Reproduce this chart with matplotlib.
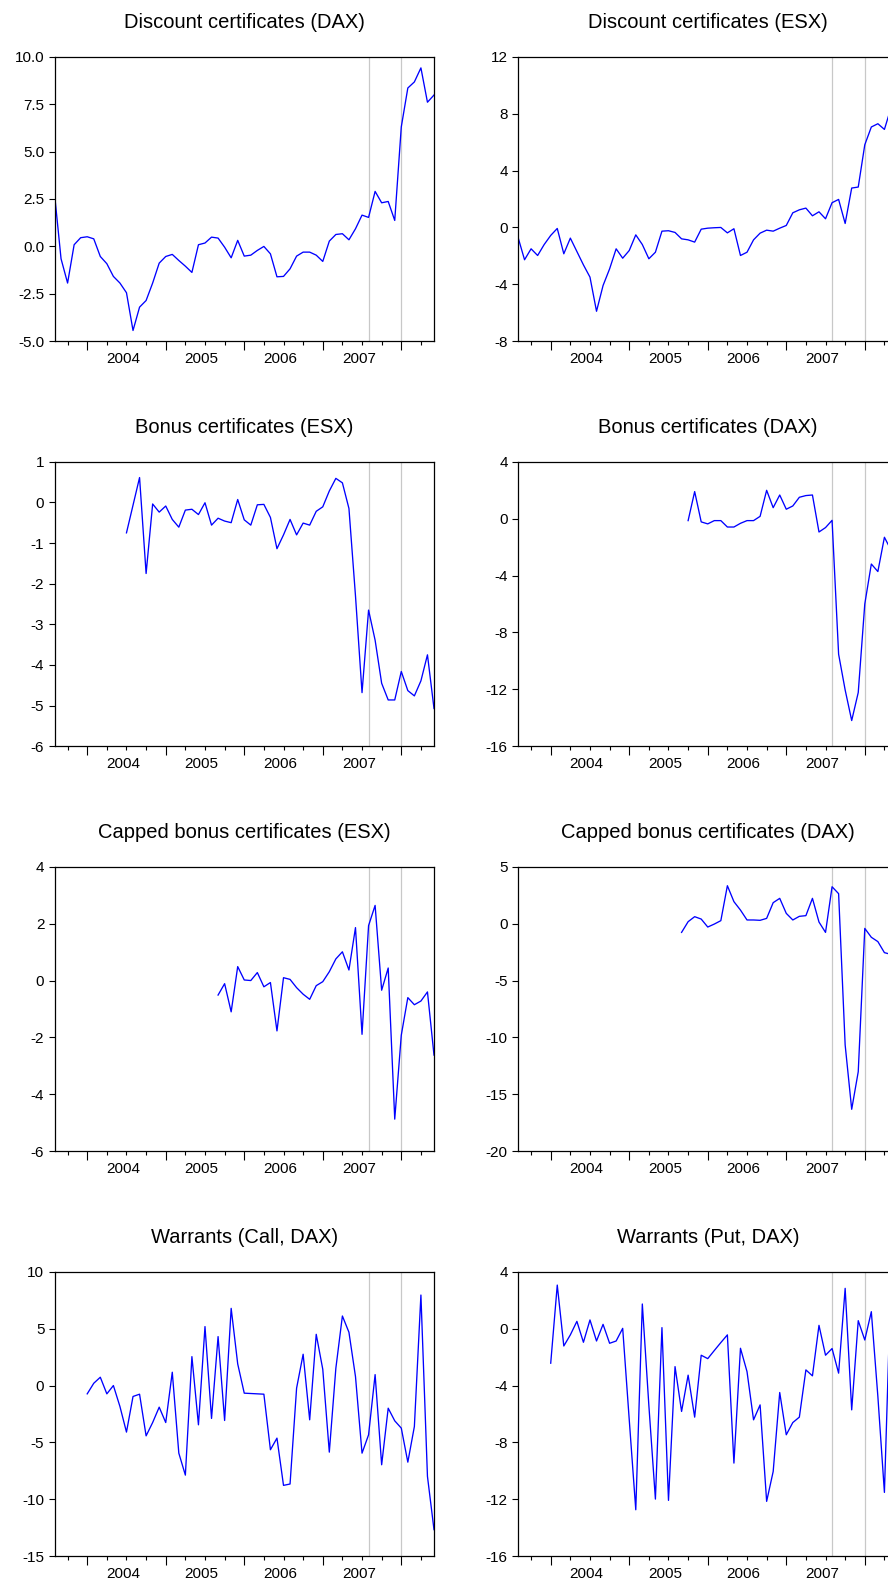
import matplotlib
matplotlib.use("Agg")
import matplotlib.pyplot as plt
import numpy as np
import pandas as pd

plt.rcParams['font.family'] = ['Liberation Sans', 'DejaVu Sans']

# monthly sample 2003M08 - 2008M06
months = pd.period_range('2003-08', '2008-06', freq='M')
years = [2004, 2005, 2006, 2007]
crisis_marks = ['2007-08', '2008-01']

disc_dax = [2.78, -0.65, -1.93, 0.09, 0.46, 0.51, 0.40, -0.53, -0.91, -1.58,
            -1.93, -2.44, -4.43, -3.20, -2.85, -1.93, -0.88, -0.53, -0.42, -0.74,
            -1.04, -1.37, 0.09, 0.18, 0.49, 0.44, -0.04, -0.60, 0.32, -0.51,
            -0.46, -0.21, 0.00, -0.39, -1.60, -1.58, -1.18, -0.51, -0.30, -0.30,
            -0.46, -0.79, 0.28, 0.63, 0.67, 0.35, 0.93, 1.65, 1.53, 2.90,
            2.30, 2.37, 1.37, 6.30, 8.35, 8.67, 9.41, 7.60, 7.98]
disc_esx = [-0.68, -2.27, -1.50, -1.97, -1.20, -0.56, -0.07, -1.85, -0.75, -1.69,
            -2.63, -3.49, -5.89, -4.08, -2.91, -1.50, -2.16, -1.62, -0.52, -1.20,
            -2.20, -1.74, -0.26, -0.23, -0.35, -0.80, -0.87, -1.03, -0.12, -0.05,
            -0.02, 0.00, -0.38, -0.09, -1.97, -1.74, -0.87, -0.40, -0.19, -0.26,
            -0.05, 0.14, 1.03, 1.24, 1.36, 0.82, 1.10, 0.61, 1.74, 1.97,
            0.28, 2.77, 2.84, 5.81, 7.06, 7.29, 6.89, 8.40, 8.00]
bonus_esx_start = '2004-07'
bonus_esx = [-0.75, -0.07, 0.61, -1.75, -0.04, -0.24, -0.09, -0.42, -0.61, -0.19,
             -0.17, -0.30, -0.01, -0.56, -0.39, -0.46, -0.50, 0.07, -0.43, -0.56,
             -0.06, -0.05, -0.37, -1.14, -0.80, -0.42, -0.80, -0.51, -0.56, -0.22,
             -0.11, 0.28, 0.59, 0.48, -0.15, -2.30, -4.68, -2.65, -3.39, -4.45,
             -4.86, -4.86, -4.16, -4.63, -4.76, -4.39, -3.75, -5.07]
bonus_dax_start = '2005-10'
bonus_dax = [-0.14, 1.90, -0.23, -0.37, -0.14, -0.14, -0.59, -0.59, -0.33, -0.14,
             -0.14, 0.16, 1.99, 0.77, 1.66, 0.66, 0.89, 1.50, 1.62, 1.66,
             -0.94, -0.63, -0.12, -9.53, -12.04, -14.19, -12.22, -6.00, -3.19, -3.72,
             -1.31, -2.20, -2.50]
capped_esx_start = '2005-09'
capped_esx = [-0.51, -0.11, -1.10, 0.49, 0.02, 0.00, 0.28, -0.22, -0.07, -1.77,
              0.10, 0.04, -0.25, -0.48, -0.66, -0.18, -0.04, 0.31, 0.76, 1.01,
              0.37, 1.86, -1.89, 1.93, 2.64, -0.34, 0.44, -4.87, -1.92, -0.60,
              -0.85, -0.72, -0.40, -2.62]
capped_dax_start = '2005-09'
capped_dax = [-0.77, 0.17, 0.61, 0.40, -0.30, -0.04, 0.26, 3.33, 1.93, 1.19,
              0.32, 0.32, 0.29, 0.46, 1.84, 2.22, 0.90, 0.32, 0.64, 0.70,
              2.22, 0.14, -0.77, 3.24, 2.63, -10.66, -16.31, -13.01, -0.42, -1.20,
              -1.58, -2.55, -2.70, -3.00]
call_dax_start = '2004-01'
call_dax = [-0.73, 0.20, 0.73, -0.73, 0.00, -1.84, -4.09, -0.96, -0.76, -4.42,
            -3.25, -1.90, -3.25, 1.17, -5.94, -7.87, 2.54, -3.45, 5.18, -2.89,
            4.30, -3.07, 6.78, 1.90, -0.67, -0.70, -0.73, -0.76, -5.64, -4.62,
            -8.77, -8.65, -0.23, 2.75, -3.01, 4.50, 1.43, -5.85, 1.52, 6.11,
            4.68, 0.79, -5.94, -4.33, 0.96, -6.96, -1.99, -3.10, -3.74, -6.73,
            -3.60, 7.95, -7.98, -12.66]
put_dax_start = '2004-01'
put_dax = [-2.43, 3.06, -1.22, -0.44, 0.51, -0.96, 0.61, -0.87, 0.30, -1.03,
           -0.87, 0.02, -6.40, -12.73, 1.73, -5.40, -11.98, 0.07, -12.07, -2.67,
           -5.82, -3.27, -6.22, -1.87, -2.11, -1.54, -0.98, -0.44, -9.45, -1.38,
           -3.02, -6.41, -5.36, -12.14, -10.04, -4.49, -7.46, -6.60, -6.22, -2.90,
           -3.32, 0.23, -1.87, -1.40, -3.13, 2.83, -5.71, 0.56, -0.80, 1.19,
           -4.77, -11.51, 3.50, 0.00]

panels = [
    ('Discount certificates (DAX)', '2003-08', disc_dax, np.arange(-5, 10.01, 2.5), '%.1f'),
    ('Discount certificates (ESX)', '2003-08', disc_esx, np.arange(-8, 12.1, 4), '%d'),
    ('Bonus certificates (ESX)', bonus_esx_start, bonus_esx, np.arange(-6, 1.1, 1), '%d'),
    ('Bonus certificates (DAX)', bonus_dax_start, bonus_dax, np.arange(-16, 4.1, 4), '%d'),
    ('Capped bonus certificates (ESX)', capped_esx_start, capped_esx, np.arange(-6, 4.1, 2), '%d'),
    ('Capped bonus certificates (DAX)', capped_dax_start, capped_dax, np.arange(-20, 5.1, 5), '%d'),
    ('Warrants (Call, DAX)', call_dax_start, call_dax, np.arange(-15, 10.1, 5), '%d'),
    ('Warrants (Put, DAX)', put_dax_start, put_dax, np.arange(-16, 4.1, 4), '%d'),
]

W, H = 888, 1584
fig = plt.figure(figsize=(W / 100, H / 100), dpi=100)

col_left = [54.5, 518.0]
ax_w = 379.5
ax_h = 284.6
row_top = [56.7, 461.7, 866.7, 1271.7]

def month_idx(p):
    return months.get_loc(pd.Period(p, freq='M'))

for k, (title, start, vals, yt, fmt) in enumerate(panels):
    r, c = divmod(k, 2)
    ax = fig.add_axes([col_left[c] / W, 1 - (row_top[r] + ax_h) / H, ax_w / W, ax_h / H])
    s = month_idx(start)
    x = np.arange(s, s + len(vals))
    for m in crisis_marks:
        ax.axvline(month_idx(m), color='#c8c8c8', lw=0.9, zorder=1)
    ax.plot(x, vals, color='#0000ff', lw=0.95, zorder=2)
    ax.set_xlim(0, len(months) - 1)
    ax.set_ylim(yt[0], yt[-1])
    ax.set_yticks(yt)
    ax.set_yticklabels([fmt % v for v in yt])

    jan = [i for i, p in enumerate(months) if p.month == 1]
    qtr = [i for i, p in enumerate(months) if p.month in (4, 7, 10)]
    ax.set_xticks(jan)
    ax.set_xticklabels([])
    ax.set_xticks(qtr, minor=True)
    ax.tick_params(axis='x', which='major', direction='out', length=6.5, width=0.8, bottom=True, top=False)
    ax.tick_params(axis='x', which='minor', direction='out', length=3, width=0.8, bottom=True, top=False)
    ax.tick_params(axis='y', direction='out', length=4.3, width=0.8, pad=3, labelsize=11, right=False)
    for y in years:
        xc = month_idx(f'{y}-01') + 5.5
        ax.annotate(str(y), (xc, 0), xycoords=('data', 'axes fraction'),
                    xytext=(0, -13), textcoords='offset points',
                    ha='center', va='center', fontsize=11)
    for sp in ax.spines.values():
        sp.set_linewidth(0.9)
    ax.set_title(title, fontsize=14.5, pad=21)

fig.savefig('out.png', dpi=100)
